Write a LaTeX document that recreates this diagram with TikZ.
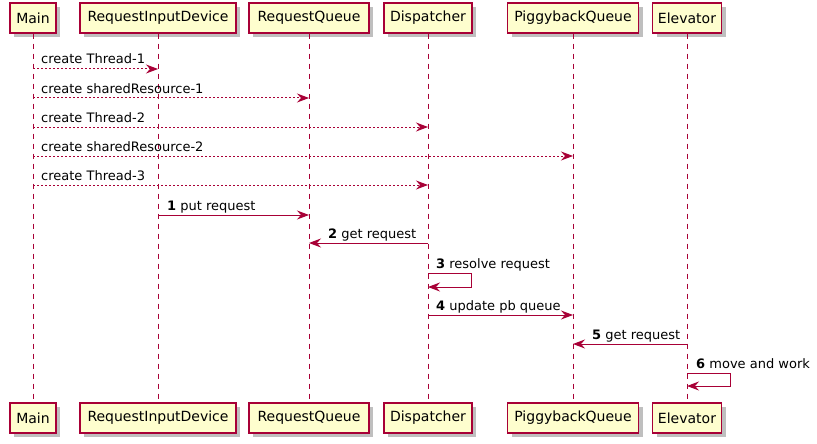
\documentclass[tikz,border=0pt]{standalone}
\usepackage{fontspec}
\setmainfont{DejaVu Sans}
\usetikzlibrary{arrows.meta,shadows}
\definecolor{pred}{HTML}{A80036}
\definecolor{pfill}{HTML}{FEFECE}
\begin{document}
\begin{tikzpicture}[x=1pt,y=-1pt,
  part/.style={draw=pred, fill=pfill, line width=1.1pt, minimum height=30pt, inner sep=0pt,
    font=\fontsize{14}{16}\selectfont,
    drop shadow={shadow xshift=4pt, shadow yshift=-4pt, opacity=0.25, fill=black}},
  life/.style={draw=pred, dash pattern=on 5pt off 5pt, line width=1pt},
  msg/.style={draw=pred, line width=1pt, -{Stealth[length=12pt,width=9pt,inset=4pt]}},
  dmsg/.style={msg, dash pattern=on 2pt off 2pt},
  lbl/.style={anchor=base west, inner sep=0pt, font=\fontsize{13}{15}\selectfont}]
\useasboundingbox[fill=white] (0,0) rectangle (817,444);
% participants top
\node[part, minimum width=46pt]  (mainT) at (33,18) {Main};
\node[part, minimum width=156pt] (ridT)  at (158,18) {RequestInputDevice};
\node[part, minimum width=120pt] (rqT)   at (309,18) {RequestQueue};
\node[part, minimum width=88pt]  (dispT) at (428,18) {Dispatcher};
\node[part, minimum width=131pt] (pqT)   at (573,18) {PiggybackQueue};
\node[part, minimum width=69pt]  (elT)   at (687,18) {Elevator};
% participants bottom
\node[part, minimum width=46pt]  (mainB) at (33,418) {Main};
\node[part, minimum width=156pt] (ridB)  at (158,418) {RequestInputDevice};
\node[part, minimum width=120pt] (rqB)   at (309,418) {RequestQueue};
\node[part, minimum width=88pt]  (dispB) at (428,418) {Dispatcher};
\node[part, minimum width=131pt] (pqB)   at (573,418) {PiggybackQueue};
\node[part, minimum width=69pt]  (elB)   at (687,418) {Elevator};
% lifelines
\foreach \a in {main,rid,rq,disp,pq,el}{
  \draw[life] (\a T.south) -- (\a B.north);
}
% rows
\coordinate (r1) at (0,69);
\coordinate (r2) at (0,98);
\coordinate (r3) at (0,127);
\coordinate (r4) at (0,156);
\coordinate (r5) at (0,185);
\coordinate (r6) at (0,215);
\coordinate (r7) at (0,243);
\coordinate (r8) at (0,273);
\coordinate (r8b) at (0,287);
\coordinate (r9) at (0,315);
\coordinate (r10) at (0,344);
\coordinate (r11) at (0,373);
\coordinate (r11b) at (0,386);
% messages
\draw[dmsg] (mainT |- r1) -- (ridT |- r1);
\node[lbl] (l1) at ([xshift=8pt,yshift=5pt]mainT |- r1) {create Thread-1};
\draw[dmsg] (mainT |- r2) -- (rqT |- r2);
\node[lbl] (l2) at ([xshift=8pt,yshift=5pt]mainT |- r2) {create sharedResource-1};
\draw[dmsg] (mainT |- r3) -- (dispT |- r3);
\node[lbl] (l3) at ([xshift=8pt,yshift=5pt]mainT |- r3) {create Thread-2};
\draw[dmsg] (mainT |- r4) -- (pqT |- r4);
\node[lbl] (l4) at ([xshift=8pt,yshift=5pt]mainT |- r4) {create sharedResource-2};
\draw[dmsg] (mainT |- r5) -- (dispT |- r5);
\node[lbl] (l5) at ([xshift=8pt,yshift=5pt]mainT |- r5) {create Thread-3};
\draw[msg] (ridT |- r6) -- (rqT |- r6);
\node[lbl] (l6) at ([xshift=9pt,yshift=5pt]ridT |- r6) {\textbf{1} put request};
\draw[msg] (dispT |- r7) -- (rqT |- r7);
\node[lbl] (l7) at ([xshift=19pt,yshift=5pt]rqT |- r7) {\textbf{2} get request};
\draw[msg] (dispT |- r8) -- ++(43,0) |- (dispT |- r8b);
\node[lbl] (l8) at ([xshift=8pt,yshift=5pt]dispT |- r8) {\textbf{3} resolve request};
\draw[msg] (dispT |- r9) -- (pqT |- r9);
\node[lbl] (l9) at ([xshift=8pt,yshift=5pt]dispT |- r9) {\textbf{4} update pb queue};
\draw[msg] (elT |- r10) -- (pqT |- r10);
\node[lbl] (l10) at ([xshift=19pt,yshift=5pt]pqT |- r10) {\textbf{5} get request};
\draw[msg] (elT |- r11) -- ++(43,0) |- (elT |- r11b);
\node[lbl] (l11) at ([xshift=9pt,yshift=5pt]elT |- r11) {\textbf{6} move and work};
\end{tikzpicture}
\end{document}
